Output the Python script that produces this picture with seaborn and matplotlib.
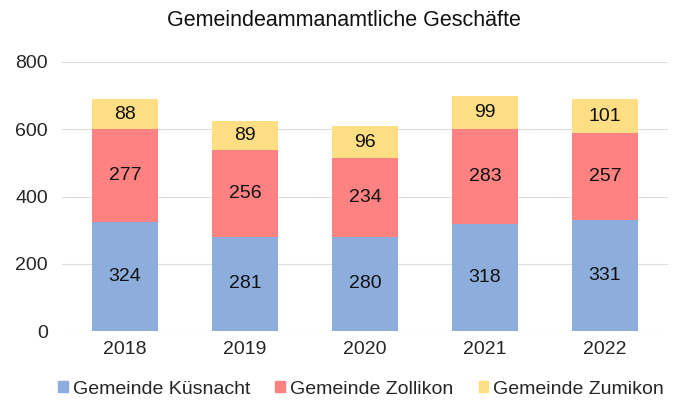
import matplotlib
matplotlib.use("Agg")
import matplotlib.pyplot as plt
import seaborn as sns
import pandas as pd
import numpy as np

years = ["2018", "2019", "2020", "2021", "2022"]
kuesnacht = [324, 281, 280, 318, 331]
zollikon = [277, 256, 234, 283, 257]
zumikon = [88, 89, 96, 99, 101]
series_names = ["Gemeinde Küsnacht", "Gemeinde Zollikon", "Gemeinde Zumikon"]
colors = ["#8DAEDD", "#FF8282", "#FFDE84"]
y_ticks = [0, 200, 400, 600, 800]

sns.set_theme(style="white")
plt.rcParams["font.family"] = ["Liberation Sans", "DejaVu Sans"]

fig = plt.figure(figsize=(6.82, 4.05), dpi=100)
ax = fig.add_axes([62/682, 1-331/405, (668-62)/682, (331-62)/405])

df = pd.DataFrame({"year": years, series_names[0]: kuesnacht,
                   series_names[1]: zollikon, series_names[2]: zumikon})
bottom = np.zeros(len(years))
width = 0.55
fs = 14
for name, col in zip(series_names, colors):
    vals = np.array(df[name], dtype=float)
    sns.barplot(x=df["year"], y=vals + bottom, color=col, ax=ax, width=width,
                saturation=1)
    for i, v in enumerate(vals):
        ax.text(i, bottom[i] + v / 2, f"{int(v)}", ha="center", va="center",
                fontsize=fs, color="#111111", zorder=10)
    bottom += vals

# lower segments draw on top
for i, c in enumerate(ax.containers):
    for p in c:
        p.set_zorder(5 - i)
        p.set_edgecolor("none")

ax.set_ylim(0, 800)
ax.set_xlim(-0.525, 4.525)
ax.set_yticks(y_ticks)
ax.set_yticklabels([str(t) for t in y_ticks], fontsize=fs)
ax.tick_params(axis="x", labelsize=fs, length=0, pad=7)
ax.tick_params(axis="y", length=0, pad=10)
ax.set_xlabel("")
ax.set_ylabel("")
ax.grid(axis="y", color="#DDDDDD", linewidth=0.8, zorder=0)
ax.set_axisbelow(True)
for s in ax.spines.values():
    s.set_visible(False)

fig.text(344/682, 1-21/405, "Gemeindeammanamtliche Geschäfte", ha="center",
         va="center", fontsize=15.5, color="#111111")

handles = [plt.Rectangle((0, 0), 1, 1, color=c) for c in colors]
fig.legend(handles, series_names, loc="center", bbox_to_anchor=(361/682, 1-389/405),
           ncol=3, frameon=False, fontsize=fs, handlelength=0.5, handleheight=0.5,
           handletextpad=0.25, columnspacing=1.3, borderpad=0.2)

fig.savefig("out.png", dpi=100)
